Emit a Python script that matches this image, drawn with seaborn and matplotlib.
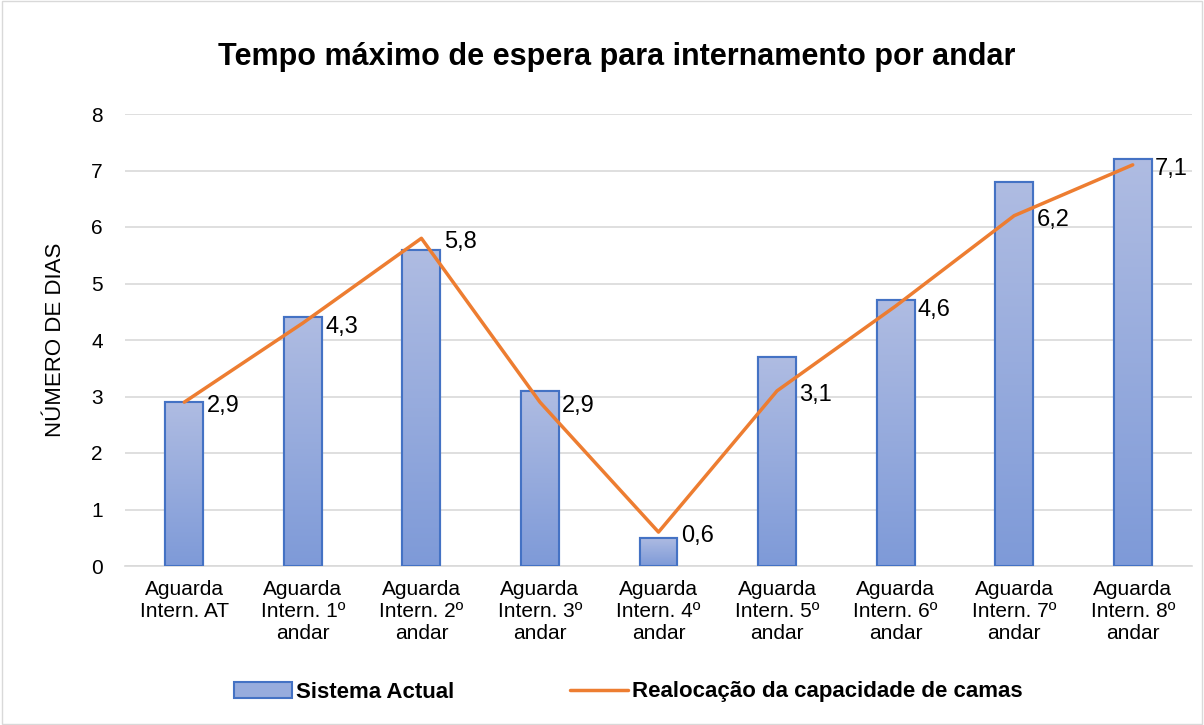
import numpy as np
import pandas as pd
import seaborn as sns
import matplotlib.pyplot as plt
from matplotlib.lines import Line2D
from matplotlib.patches import Patch
from matplotlib.colors import LinearSegmentedColormap

categorias = ["Aguarda\nIntern. AT", "Aguarda\nIntern. 1º\nandar", "Aguarda\nIntern. 2º\nandar",
              "Aguarda\nIntern. 3º\nandar", "Aguarda\nIntern. 4º\nandar", "Aguarda\nIntern. 5º\nandar",
              "Aguarda\nIntern. 6º\nandar", "Aguarda\nIntern. 7º\nandar", "Aguarda\nIntern. 8º\nandar"]
sistema_actual = [2.9, 4.4, 5.6, 3.1, 0.5, 3.7, 4.7, 6.8, 7.2]
realocacao = [2.9, 4.3, 5.8, 2.9, 0.6, 3.1, 4.6, 6.2, 7.1]
rotulos = ["2,9", "4,3", "5,8", "2,9", "0,6", "3,1", "4,6", "6,2", "7,1"]

sns.set_style("white")
plt.rcParams['font.family'] = ['Liberation Sans', 'DejaVu Sans']
plt.rcParams['text.color'] = 'black'
plt.rcParams['axes.labelcolor'] = 'black'
plt.rcParams['xtick.color'] = 'black'
plt.rcParams['ytick.color'] = 'black'

df = pd.DataFrame({"cat": categorias, "actual": sistema_actual, "realoc": realocacao})

fig = plt.figure(figsize=(12.04, 7.25), dpi=100)
ax = fig.add_axes([125 / 1204, 1 - 566 / 725, (1192 - 125) / 1204, (566 - 114) / 725])

sns.barplot(data=df, x="cat", y="actual", ax=ax, width=0.32, color="#8FA5DA",
            edgecolor="#4472C4", linewidth=1.5, zorder=2)

# gradient fill inside bars
grad = np.linspace(0, 1, 256).reshape(-1, 1)
cmap = LinearSegmentedColormap.from_list("g", ["#7E9AD8", "#AFBCE2"])
for p in list(ax.patches):
    x0, y0 = p.get_x(), p.get_y()
    w, h = p.get_width(), p.get_height()
    im = ax.imshow(grad, extent=[x0, x0 + w, y0, y0 + h], origin="lower", cmap=cmap,
                   aspect="auto", zorder=2.5)
    im.set_clip_path(p)
    ax.add_patch(plt.Rectangle((x0, y0), w, h, fill=False, edgecolor="#4472C4", lw=1.5, zorder=3))

sns.lineplot(x=np.arange(len(realocacao)), y=realocacao, ax=ax, color="#ED7D31", lw=2.5, zorder=4)
for i, (v, t) in enumerate(zip(realocacao, rotulos)):
    ax.annotate(t, (i, v), xytext=(16, -3), textcoords="offset points", fontsize=17,
                va="center", ha="left", zorder=5)

ax.set_xlim(-0.5, 8.5)
ax.set_ylim(0, 8)
ax.set_yticks(range(0, 9))
ax.yaxis.grid(True, color="#D9D9D9", lw=1.2, zorder=0)
ax.set_axisbelow(True)
for s in ["top", "right", "left"]:
    ax.spines[s].set_visible(False)
ax.spines["bottom"].set_color("#D9D9D9")
ax.spines["bottom"].set_linewidth(1.2)
ax.tick_params(axis="both", length=0, labelsize=15, pad=10)
ax.tick_params(axis="y", pad=16)
ax.set_xlabel("")
ax.set_ylabel("NÚMERO DE DIAS", fontsize=16, labelpad=18)
fig.suptitle("Tempo máximo de espera para internamento por andar", fontsize=22,
             fontweight="bold", x=617 / 1204, y=1 - 57 / 725, va="center")

handles = [Patch(facecolor="#97ACDD", edgecolor="#4472C4", lw=1.5),
           Line2D([0], [0], color="#ED7D31", lw=2.5)]
fig.legend(handles, ["Sistema Actual", "Realocação da capacidade de camas"], loc="center",
           bbox_to_anchor=(0.522, 1 - 692 / 725), ncol=2, frameon=False,
           prop={"size": 16, "weight": "bold"}, handlelength=2.6, columnspacing=5.2,
           handletextpad=0.2)

fig.patches.append(plt.Rectangle((0.002, 0.002), 0.996, 0.996, transform=fig.transFigure,
                                 fill=False, edgecolor="#D9D9D9", lw=1))
fig.savefig("out.png", dpi=100)
